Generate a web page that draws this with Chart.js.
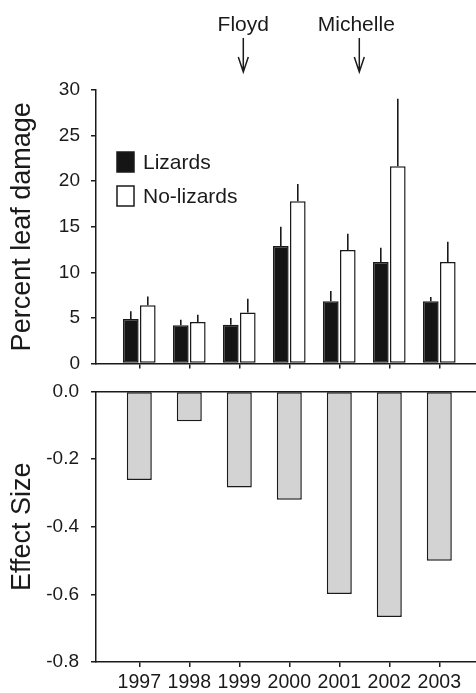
<!DOCTYPE html>
<html><head><meta charset="utf-8">
<script src="https://cdn.jsdelivr.net/npm/chart.js@4/dist/chart.umd.min.js"></script>
<style>
html,body{margin:0;padding:0;background:#fff;width:476px;height:693px;overflow:hidden}
#c1{position:absolute;left:0;top:0}
#c2{position:absolute;left:0;top:368px}
</style>
</head><body>
<canvas id="c1" width="476" height="386"></canvas>
<canvas id="c2" width="476" height="325"></canvas>
<script>
// ---- data ----
const years = [1997, 1998, 1999, 2000, 2001, 2002, 2003];
const lizards = [4.9, 4.2, 4.25, 12.9, 6.85, 11.15, 6.85];
const lizardsSE = [0.85, 0.6, 0.75, 2.1, 1.1, 1.55, 0.45];
const noLizards = [6.4, 4.55, 5.6, 17.8, 12.45, 21.65, 11.15];
const noLizardsSE = [0.95, 0.8, 1.5, 1.9, 1.8, 7.4, 2.2];
const effectSize = [-0.262, -0.088, -0.284, -0.320, -0.599, -0.667, -0.501];
const hurricanes = ['Floyd', 'Michelle'];
const hurricaneYears = [1999.08, 2001.4];
const seriesNames = ['Lizards', 'No-lizards'];

const INK = '#1a1a1a';
const FONT = "'Liberation Sans', Arial, Helvetica, sans-serif";
Chart.defaults.font.family = FONT;
Chart.defaults.color = INK;
Chart.defaults.animation = false;

const xMin = 1996.134, xMax = 2003.734;

function xAxis(showLabels) {
  return {
    type: 'linear', min: xMin, max: xMax, offset: false,
    ticks: {
      stepSize: 1, includeBounds: false, autoSkip: false, maxRotation: 0,
      font: {size: 19.5}, padding: 4, color: INK,
      callback: v => showLabels ? String(v) : ''
    },
    grid: {display: true, drawOnChartArea: false, drawTicks: true, tickLength: 5, color: INK, lineWidth: 1.5, offset: false},
    border: {display: true, color: INK, width: 1.5}
  };
}

const pairs = d => d.map((v, i) => ({x: years[i], y: v}));

const errorBars = {
  id: 'errorBars',
  afterDatasetsDraw(chart) {
    const ctx = chart.ctx, ys = chart.scales.y;
    [lizardsSE, noLizardsSE].forEach((se, di) => {
      const meta = chart.getDatasetMeta(di);
      meta.data.forEach((bar, i) => {
        const v = chart.data.datasets[di].data[i].y;
        ctx.save();
        ctx.strokeStyle = INK; ctx.lineWidth = 1.6;
        ctx.beginPath();
        ctx.moveTo(bar.x, bar.y);
        ctx.lineTo(bar.x, ys.getPixelForValue(v + se[i]));
        ctx.stroke();
        ctx.restore();
      });
    });
  }
};

const legendAndNotes = {
  id: 'legendAndNotes',
  afterDraw(chart) {
    const ctx = chart.ctx, a = chart.chartArea, xs = chart.scales.x;
    ctx.save();
    // legend
    chart.data.datasets.forEach((ds, i) => {
      const bx = a.left + 21, by = a.top + 62 + i * 34;
      ctx.fillStyle = ds.backgroundColor;
      ctx.strokeStyle = INK; ctx.lineWidth = 1.5;
      ctx.fillRect(bx, by, 17, 20);
      ctx.strokeRect(bx, by, 17, 20);
      ctx.fillStyle = INK;
      ctx.font = '21px ' + FONT;
      ctx.textBaseline = 'middle'; ctx.textAlign = 'left';
      ctx.fillText(ds.label, bx + 26, by + 11);
    });
    // hurricane annotations
    hurricanes.forEach((name, i) => {
      const x = xs.getPixelForValue(hurricaneYears[i]);
      ctx.fillStyle = INK;
      ctx.font = '21px ' + FONT;
      ctx.textAlign = 'center'; ctx.textBaseline = 'alphabetic';
      ctx.fillText(name, x - (i === 1 ? 3 : 0), 31);
      ctx.strokeStyle = INK; ctx.lineWidth = 1.5;
      ctx.beginPath();
      ctx.moveTo(x, 38); ctx.lineTo(x, 72);
      ctx.moveTo(x - 5, 57); ctx.lineTo(x, 72); ctx.lineTo(x + 5, 57);
      ctx.stroke();
    });
    ctx.restore();
  }
};

new Chart(document.getElementById('c1'), {
  type: 'bar',
  data: {
    datasets: [
      {label: seriesNames[0], data: pairs(lizards), backgroundColor: '#151515', borderColor: INK, borderWidth: 1.5, borderSkipped: false},
      {label: seriesNames[1], data: pairs(noLizards), backgroundColor: '#ffffff', borderColor: INK, borderWidth: 1.5, borderSkipped: false}
    ]
  },
  options: {
    responsive: false,
    categoryPercentage: 0.68, barPercentage: 0.92,
    layout: {padding: {top: 90, right: 0, left: 0, bottom: 0}},
    plugins: {legend: {display: false}, tooltip: {enabled: false}},
    scales: {
      x: Object.assign(xAxis(false), {afterFit(s) { s.height = 14; }}),
      y: {
        min: 0, max: 30,
        ticks: {stepSize: 5, font: {size: 19}, padding: 11, color: INK},
        grid: {drawOnChartArea: false, drawTicks: true, tickLength: 5, color: INK, lineWidth: 1.5},
        border: {color: INK, width: 1.5},
        title: {display: true, text: 'Percent leaf damage', font: {size: 27}, color: INK, padding: {top: 6, bottom: 0}},
        afterFit(s) { s.width = 96; }
      }
    }
  },
  plugins: [errorBars, legendAndNotes]
});

new Chart(document.getElementById('c2'), {
  type: 'bar',
  data: {
    datasets: [
      {label: 'Effect Size', data: pairs(effectSize), backgroundColor: '#d3d3d3', borderColor: INK, borderWidth: 1.5, borderSkipped: false}
    ]
  },
  options: {
    responsive: false,
    categoryPercentage: 0.5, barPercentage: 1,
    layout: {padding: {top: 15, right: 0, left: 0, bottom: 0}},
    plugins: {legend: {display: false}, tooltip: {enabled: false}},
    scales: {
      x: Object.assign(xAxis(true), {afterFit(s) { s.height = 31; }}),
      xt: {
        type: 'linear', position: 'top', min: xMin, max: xMax,
        ticks: {display: false}, grid: {display: false, drawTicks: false},
        border: {display: true, color: INK, width: 1.5},
        afterFit(s) { s.height = 0; }
      },
      y: {
        min: -0.8, max: 0,
        ticks: {stepSize: 0.2, font: {size: 19}, padding: 12, color: INK, callback: v => Number(v).toFixed(1)},
        grid: {drawOnChartArea: false, drawTicks: true, tickLength: 5, color: INK, lineWidth: 1.5},
        border: {color: INK, width: 1.5},
        title: {display: true, text: 'Effect Size', font: {size: 27}, color: INK, padding: {top: 6, bottom: 0}},
        afterFit(s) { s.width = 96; }
      }
    }
  }
});
</script>
</body></html>
